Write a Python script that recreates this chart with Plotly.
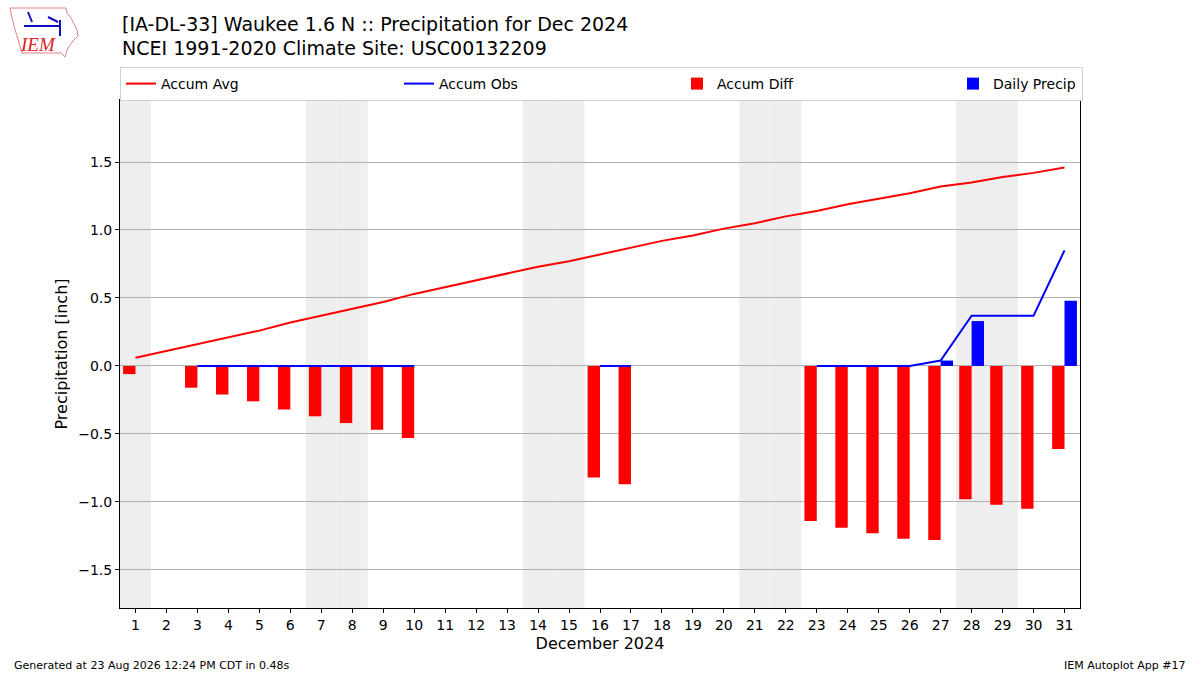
import datetime
import plotly.graph_objects as go

days = list(range(1, 32))
accum_avg = [0.06, 0.11, 0.16, 0.21, 0.26, 0.32, 0.37, 0.42, 0.47, 0.53,
             0.58, 0.63, 0.68, 0.73, 0.77, 0.82, 0.87, 0.92, 0.96, 1.01,
             1.05, 1.10, 1.14, 1.19, 1.23, 1.27, 1.32, 1.35, 1.39, 1.42, 1.46]
accum_obs = [0.0, None, 0.0, 0.0, 0.0, 0.0, 0.0, 0.0, 0.0, 0.0,
             None, None, None, None, None, 0.0, 0.0, None, None, None,
             None, None, 0.0, 0.0, 0.0, 0.0, 0.04, 0.37, 0.37, 0.37, 0.85]
daily_precip = [0.0, None, 0.0, 0.0, 0.0, 0.0, 0.0, 0.0, 0.0, 0.0,
                None, None, None, None, None, 0.0, 0.0, None, None, None,
                None, None, 0.0, 0.0, 0.0, 0.0, 0.04, 0.33, 0.0, 0.0, 0.48]
accum_diff = [None if o is None else round(o - a, 2) for o, a in zip(accum_obs, accum_avg)]

y_ticks = [-1.5, -1.0, -0.5, 0.0, 0.5, 1.0, 1.5]
y_ticktext = [("\u2212" if v < 0 else "") + f"{abs(v):.1f}" for v in y_ticks]

FONT = "DejaVu Sans"

fig = go.Figure()
fig.add_trace(go.Scatter(x=days, y=accum_avg, mode="lines", name="Accum Avg",
                         line=dict(color="red", width=2), legendwidth=233))
fig.add_trace(go.Scatter(x=days, y=accum_obs, mode="lines", name="Accum Obs",
                         line=dict(color="blue", width=2), connectgaps=False, legendwidth=233))
fig.add_trace(go.Bar(x=days, y=accum_diff, name="Accum Diff", marker=dict(color="red", line=dict(width=0)),
                     width=0.4, offset=-0.4, legendwidth=231))
fig.add_trace(go.Bar(x=days, y=daily_precip, name="Daily Precip", marker=dict(color="blue", line=dict(width=0)),
                     width=0.4, offset=0.0, legendwidth=84))

# weekend shading
shapes = []
for d in days:
    if datetime.date(2024, 12, d).weekday() >= 5:
        shapes.append(dict(type="rect", xref="x", yref="paper", x0=d - 0.5, x1=d + 0.5, y0=0, y1=1,
                           fillcolor="#eeeeee", line=dict(width=0), layer="below"))

# logo outline (pixel coords -> paper)
def px(xp, yp):
    return (xp - 120) / 960, 1 - (yp - 100) / 508

outline = [(10, 8), (66, 8), (67, 13), (71, 18), (74, 24), (77, 30), (78, 36), (73, 41), (70, 45),
           (67, 50), (65, 57), (61, 53), (22, 53), (20, 46), (17, 36), (14, 26), (12, 18), (10, 8)]
path = "M " + " L ".join(f"{px(a, b)[0]:.5f},{px(a, b)[1]:.5f}" for a, b in outline) + " Z"
shapes.append(dict(type="path", xref="paper", yref="paper", path=path,
                   line=dict(color="#e88080", width=1), fillcolor="rgba(0,0,0,0)"))
for (a, b, c, d) in [(24, 26, 60, 26), (60, 20, 60, 36), (48, 17, 58, 22), (28, 12, 32, 22)]:
    x0, y0 = px(a, b)
    x1, y1 = px(c, d)
    shapes.append(dict(type="line", xref="paper", yref="paper", x0=x0, y0=y0, x1=x1, y1=y1,
                       line=dict(color="#1010c0", width=2)))

annotations = [
    dict(text="[IA-DL-33] Waukee 1.6 N :: Precipitation for Dec 2024", x=0, y=px(0, 24)[1],
         xref="paper", yref="paper", xanchor="left", yanchor="middle", showarrow=False,
         font=dict(family=FONT, size=19, color="black")),
    dict(text="NCEI 1991-2020 Climate Site: USC00132209", x=0, y=px(0, 48)[1],
         xref="paper", yref="paper", xanchor="left", yanchor="middle", showarrow=False,
         font=dict(family=FONT, size=19, color="black")),
    dict(text="Generated at 23 Aug 2026 12:24 PM CDT in 0.48s", x=px(12, 0)[0], y=px(0, 665)[1],
         xref="paper", yref="paper", xanchor="left", yanchor="middle", showarrow=False,
         font=dict(family=FONT, size=11, color="black")),
    dict(text="IEM Autoplot App #17", x=px(1188, 0)[0], y=px(0, 665)[1],
         xref="paper", yref="paper", xanchor="right", yanchor="middle", showarrow=False,
         font=dict(family=FONT, size=11, color="black")),
    dict(text="<i>IEM</i>", x=px(38, 0)[0], y=px(0, 45)[1],
         xref="paper", yref="paper", xanchor="center", yanchor="middle", showarrow=False,
         font=dict(family="Liberation Serif", size=19, color="#e02020")),
]

fig.update_layout(
    width=1200, height=675,
    margin=dict(l=120, r=120, t=100, b=67),
    paper_bgcolor="white", plot_bgcolor="white",
    font=dict(family=FONT, size=14, color="black"),
    barmode="overlay",
    showlegend=True,
    legend=dict(orientation="h", x=0, xanchor="left", y=px(0, 67)[1], yanchor="top",
                bordercolor="#d0d0d0", borderwidth=1, bgcolor="white",
                entrywidthmode="pixels", traceorder="normal",
                font=dict(family=FONT, size=14)),
    shapes=shapes,
    annotations=annotations,
    xaxis=dict(range=[0.5, 31.5], tickmode="array", tickvals=days, ticktext=[str(d) for d in days],
               ticks="outside", ticklen=4, tickcolor="black", showgrid=False, zeroline=False,
               showline=True, linecolor="black", linewidth=1, mirror=True,
               title=dict(text="December 2024", font=dict(family=FONT, size=16), standoff=6),
               tickfont=dict(family=FONT, size=14)),
    yaxis=dict(range=[-1.78, 1.956], tickmode="array", tickvals=y_ticks, ticktext=y_ticktext,
               ticks="outside", ticklen=4, tickcolor="black", showgrid=True, gridcolor="#b0b0b0",
               gridwidth=1, zeroline=False, showline=True, linecolor="black", linewidth=1, mirror=True,
               title=dict(text="Precipitation [inch]", font=dict(family=FONT, size=16), standoff=6),
               tickfont=dict(family=FONT, size=14)),
)

fig.write_html("out.html", config={"displayModeBar": False},
               post_script="document.body.style.margin='0';")
